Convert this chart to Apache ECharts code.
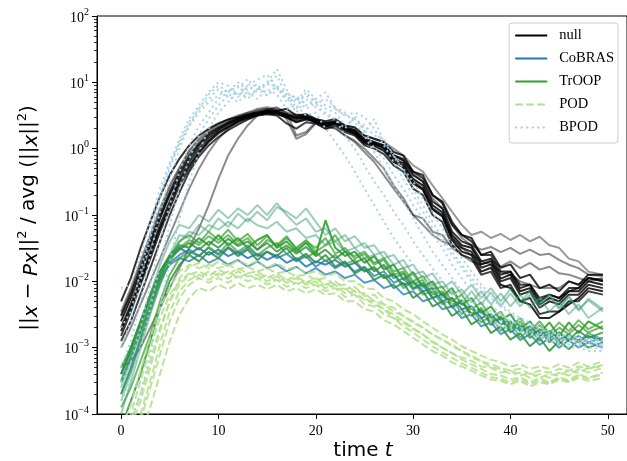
<!DOCTYPE html>
<html><head><meta charset="utf-8">
<script src="https://cdn.jsdelivr.net/npm/echarts@6/dist/echarts.min.js"></script>
<style>html,body{margin:0;padding:0;background:#fff}#c{width:627px;height:461px}</style>
</head><body><div id="c"></div>
<script>
// ---------- data ----------
const times = [0,1,2,3,4,5,6,7,8,9,10,11,12,13,14,15,16,17,18,19,20,21,22,23,24,25,26,27,28,29,
  30,31,32,33,34,35,36,37,38,39,40,41,42,43,44,45,46,47,48,49.5];
const legendNames = ['null','CoBRAS','TrOOP','POD','BPOD'];
const xTickValues = [0,10,20,30,40,50];

const nullRuns = [
 [2.5e-3,5.6e-3,0.014,0.035,0.089,0.2,0.4,0.71,1.12,1.58,
  2.0,2.4,2.8,3.16,3.4,3.6,3.5,3.16,2.8,2.95,
  2.5,2.3,2.5,2.0,1.78,1.26,1.15,1.05,0.71,0.6,
  0.35,0.28,0.14,0.11,0.05,0.035,0.032,0.018,0.02,0.011,
  0.0126,0.0071,0.0079,0.0045,0.0056,0.005,0.0071,0.0071,0.01,0.0089],
 [5e-3,0.0112,0.0316,0.079,0.19,0.4,0.71,1.12,1.58,2.0,
  2.4,2.75,3.0,3.3,3.5,3.8,3.7,4.0,3.16,3.3,
  2.8,2.6,2.8,2.24,2.1,1.58,1.41,1.26,0.89,0.79,
  0.45,0.4,0.2,0.16,0.079,0.05,0.045,0.025,0.028,0.016,
  0.018,0.0112,0.0126,0.0079,0.0089,0.0071,0.01,0.0089,0.0126,0.0126],
 [1.26e-3,2.5e-3,6.3e-3,0.0158,0.04,0.1,0.22,0.45,0.76,1.12,
  1.5,1.9,2.3,2.75,3.16,3.3,3.16,2.4,2.0,2.5,
  2.4,2.0,2.24,1.78,1.58,1.12,1.0,0.83,0.56,0.45,
  0.25,0.2,0.1,0.079,0.035,0.025,0.022,0.0126,0.014,0.0079,
  0.0089,0.005,0.0056,0.0032,0.0035,0.0035,0.005,0.005,0.0071,0.0063],
 [1.78e-3,4e-3,0.01,0.025,0.063,0.14,0.32,0.56,0.89,1.32,
  1.78,2.14,2.6,2.95,3.3,3.5,3.4,2.95,2.5,2.75,
  2.6,2.14,2.4,1.9,1.66,1.2,1.1,0.93,0.63,0.52,
  0.3,0.24,0.12,0.095,0.042,0.028,0.025,0.014,0.016,0.0089,
  0.0079,0.005,0.0045,0.0028,0.0028,0.0035,0.0045,0.0056,0.0079,0.0071],
 [2e-3,4.5e-3,0.0112,0.028,0.071,0.16,0.35,0.63,1.0,1.45,
  1.9,2.3,2.7,3.0,3.3,3.5,3.6,3.3,3.0,3.1,
  2.7,2.4,2.6,2.1,1.9,1.4,1.26,1.12,0.79,0.66,
  0.4,0.32,0.16,0.126,0.056,0.04,0.035,0.02,0.022,0.0126,
  0.014,0.0079,0.0089,0.005,0.0063,0.0056,0.0079,0.0079,0.0112,0.01],
 [3e-3,6.5e-3,0.016,0.04,0.1,0.22,0.45,0.79,1.2,1.7,
  2.1,2.5,2.9,3.2,3.5,3.7,3.6,3.2,2.9,3.0,
  2.6,2.4,2.5,2.0,1.85,1.32,1.2,1.0,0.66,0.56,
  0.32,0.25,0.126,0.1,0.045,0.032,0.028,0.016,0.018,0.01,
  0.0112,0.0063,0.0071,0.004,0.005,0.0045,0.0063,0.0063,0.0089,0.0079],
 [1.5e-3,3.5e-3,8.9e-3,0.022,0.056,0.126,0.28,0.5,0.85,1.26,
  1.7,2.1,2.5,2.85,3.2,3.4,3.3,3.0,2.6,2.85,
  2.5,2.2,2.4,1.95,1.7,1.3,1.2,1.1,0.8,0.7,
  0.45,0.36,0.2,0.15,0.071,0.05,0.04,0.025,0.025,0.0141,
  0.0141,0.0089,0.0089,0.0056,0.0063,0.0056,0.0071,0.0079,0.0112,0.0105],
 [5e-4,6.3e-4,1e-3,2e-3,4e-3,7.9e-3,0.0158,0.032,0.063,0.14,
  0.35,0.79,1.41,2.24,3.16,3.8,4.2,3.5,1.58,1.78,
  2.5,2.24,2.0,1.58,1.26,0.89,0.63,0.4,0.25,0.16,
  0.1,0.071,0.05,0.04,0.035,0.032,0.025,0.02,0.018,0.014,
  0.0126,0.01,0.0089,0.0079,0.0079,0.0079,0.01,0.0089,0.0112,0.01],
 [3.16e-3,7.1e-3,0.0178,0.045,0.112,0.25,0.5,0.89,1.32,1.78,
  2.24,2.6,3.0,3.5,4.0,4.2,4.0,3.5,3.3,3.16,
  2.8,2.5,2.6,2.24,2.0,1.58,1.41,1.26,1.0,0.79,
  0.56,0.45,0.28,0.18,0.112,0.071,0.05,0.056,0.045,0.052,
  0.042,0.05,0.04,0.047,0.035,0.032,0.022,0.02,0.014,0.0126],
 [3.5e-3,7.9e-3,0.02,0.05,0.126,0.28,0.52,0.95,1.41,1.9,
  2.34,2.75,3.16,3.47,3.7,4.0,3.8,3.3,3.16,3.0,
  2.7,2.5,2.5,2.1,1.9,1.41,1.26,1.12,0.79,0.66,
  0.42,0.32,0.18,0.126,0.071,0.045,0.035,0.03,0.033,0.0275,
  0.032,0.026,0.03,0.025,0.026,0.021,0.0178,0.0158,0.0126,0.012],
 [1e-3,2e-3,4.5e-3,0.01,0.022,0.05,0.112,0.25,0.5,0.89,
  1.41,2.0,2.6,3.16,3.8,4.0,3.8,2.8,1.41,1.66,
  2.4,2.0,2.1,1.58,1.32,1.0,0.71,0.5,0.28,0.18,
  0.1,0.089,0.056,0.05,0.032,0.025,0.02,0.0178,0.021,0.0166,
  0.02,0.0158,0.019,0.015,0.0166,0.0132,0.0126,0.0112,0.01,0.0112]
];

const cobrasRuns = [
 [4e-4,1e-3,2.5e-3,6.3e-3,0.0141,0.024,0.032,0.026,0.032,0.025,
  0.03,0.024,0.028,0.0224,0.026,0.021,0.025,0.019,0.0224,0.0166,
  0.02,0.0178,0.021,0.0166,0.019,0.0141,0.0158,0.0112,0.0126,0.0089,
  0.01,0.0071,0.0079,0.005,0.0056,0.0038,0.0042,0.0028,0.0032,0.00224,
  0.0025,0.00178,0.0021,0.0015,0.00178,0.00132,0.00158,0.00126,0.0015,0.00126],
 [2e-4,5e-4,1.41e-3,4e-3,0.01,0.019,0.025,0.03,0.024,0.032,
  0.025,0.033,0.026,0.032,0.024,0.028,0.0224,0.026,0.02,0.024,
  0.0166,0.021,0.0158,0.019,0.0141,0.0166,0.012,0.0141,0.0095,0.0112,
  0.0076,0.0089,0.0056,0.0066,0.0042,0.005,0.0032,0.0035,0.0024,0.0028,
  0.0019,0.00224,0.00158,0.0019,0.00141,0.00166,0.00126,0.0015,0.0012,0.00141],
 [3e-4,7e-4,1.78e-3,4.5e-3,0.0112,0.0178,0.0224,0.02,0.025,0.019,
  0.0224,0.0178,0.021,0.0166,0.02,0.0158,0.0178,0.0141,0.0166,0.0132,
  0.0158,0.0126,0.0141,0.0112,0.0126,0.0095,0.0105,0.0079,0.0089,0.0063,
  0.0071,0.005,0.0056,0.0038,0.0042,0.0028,0.0032,0.0021,0.0024,0.0016,
  0.0019,0.0013,0.0016,0.0011,0.0014,0.001,0.0013,0.001,0.0012,0.001]
];

const troopRuns = [
 [5e-4,1e-3,2.5e-3,6.3e-3,0.0141,0.025,0.035,0.032,0.045,0.035,
  0.05,0.035,0.045,0.032,0.042,0.05,0.032,0.04,0.028,0.038,
  0.025,0.083,0.032,0.024,0.028,0.019,0.024,0.015,0.0178,0.0105,
  0.0138,0.0083,0.01,0.006,0.0079,0.0044,0.0056,0.0033,0.0042,0.0026,
  0.0032,0.0019,0.0025,0.00166,0.0024,0.0015,0.0024,0.00166,0.0025,0.0019],
 [1.26e-4,2.5e-4,6.3e-4,1.58e-3,5e-3,0.0126,0.0224,0.028,0.024,0.033,
  0.026,0.038,0.028,0.035,0.025,0.032,0.038,0.026,0.032,0.0224,
  0.028,0.02,0.025,0.0178,0.021,0.0141,0.0166,0.0112,0.0132,0.0079,
  0.01,0.0063,0.0071,0.0045,0.0056,0.0032,0.004,0.0024,0.003,0.00178,
  0.0024,0.00141,0.0019,0.00126,0.00178,0.00112,0.00158,0.0012,0.00166,0.00132],
 [2.5e-4,6.3e-4,2e-3,6.3e-3,0.0178,0.04,0.071,0.063,0.1,0.079,
  0.12,0.089,0.126,0.1,0.141,0.1,0.151,0.1,0.071,0.089,
  0.056,0.063,0.04,0.05,0.032,0.038,0.025,0.028,0.0178,0.021,
  0.0126,0.0141,0.0089,0.01,0.0063,0.0076,0.0048,0.0071,0.0045,0.0066,
  0.0042,0.0063,0.004,0.0056,0.0035,0.005,0.0032,0.0045,0.0028,0.004],
 [1.58e-4,4e-4,1.26e-3,4e-3,0.0112,0.025,0.05,0.045,0.071,0.056,
  0.089,0.066,0.105,0.079,0.112,0.083,0.132,0.112,0.089,0.126,
  0.079,0.05,0.063,0.04,0.048,0.032,0.035,0.0224,0.025,0.0158,
  0.0178,0.0112,0.0132,0.0079,0.01,0.0063,0.0089,0.0056,0.0079,0.005,
  0.0076,0.0048,0.0071,0.0045,0.0063,0.004,0.006,0.0038,0.0052,0.0035],
 [6.3e-5,1.58e-4,4e-4,1.26e-3,4e-3,0.01,0.0178,0.025,0.02,0.028,
  0.0224,0.032,0.024,0.03,0.021,0.028,0.024,0.032,0.021,0.026,
  0.019,0.025,0.0166,0.02,0.0132,0.0158,0.0105,0.0126,0.0079,0.0095,
  0.0056,0.0071,0.0042,0.005,0.003,0.0038,0.00224,0.0028,0.00166,0.0021,
  0.00132,0.00166,0.00105,0.00141,0.00089,0.00126,0.00095,0.00132,0.001,0.0012],
 [3.16e-4,7.9e-4,1.78e-3,4.5e-3,0.0112,0.024,0.04,0.05,0.038,0.056,
  0.042,0.06,0.04,0.052,0.035,0.048,0.033,0.045,0.032,0.042,
  0.028,0.035,0.05,0.028,0.024,0.028,0.019,0.0224,0.0141,0.0158,
  0.01,0.012,0.0076,0.0083,0.005,0.0063,0.0038,0.0048,0.0028,0.0035,
  0.0021,0.0028,0.00178,0.0025,0.00166,0.0024,0.00178,0.0026,0.0019,0.0025],
 [2e-4,4.5e-4,1.26e-3,3.5e-3,0.009,0.02,0.032,0.042,0.035,0.048,
  0.038,0.05,0.036,0.045,0.03,0.042,0.035,0.048,0.03,0.04,
  0.032,0.045,0.026,0.032,0.022,0.026,0.0178,0.021,0.0126,0.0141,
  0.0089,0.0105,0.0063,0.0071,0.0045,0.0052,0.0032,0.004,0.0024,0.003,
  0.0019,0.0025,0.0016,0.0022,0.0015,0.002,0.0016,0.0022,0.0017,0.0021],
 [1e-4,3e-4,1e-3,3.2e-3,0.0089,0.02,0.04,0.056,0.05,0.071,
  0.06,0.079,0.063,0.089,0.07,0.063,0.079,0.056,0.063,0.045,
  0.05,0.035,0.04,0.028,0.032,0.0224,0.025,0.0158,0.0178,0.0112,
  0.0126,0.0079,0.0089,0.0056,0.0071,0.0045,0.0071,0.0045,0.0068,0.0042,
  0.0066,0.0042,0.0063,0.004,0.0063,0.0038,0.0058,0.0036,0.0055,0.0038],
 [4e-4,8.9e-4,2.2e-3,5.6e-3,0.0126,0.0224,0.03,0.038,0.03,0.04,
  0.032,0.044,0.034,0.04,0.03,0.038,0.028,0.035,0.026,0.033,
  0.024,0.03,0.022,0.028,0.019,0.0224,0.0141,0.0178,0.0112,0.0132,
  0.0079,0.0095,0.0056,0.0066,0.004,0.005,0.003,0.0038,0.0022,0.0028,
  0.0017,0.0022,0.0014,0.0019,0.0012,0.0017,0.0013,0.0018,0.0014,0.0017]
];

const podRuns = [
 [5e-5,7.9e-5,2e-4,6.3e-4,2e-3,5e-3,8.9e-3,0.0126,0.0141,0.012,
  0.0151,0.0126,0.0158,0.0132,0.0141,0.0112,0.0132,0.0105,0.012,0.0095,
  0.0112,0.0089,0.01,0.0076,0.0083,0.006,0.0063,0.0045,0.004,0.003,
  0.0025,0.002,0.00158,0.00132,0.00105,0.00089,0.00071,0.00063,0.0005,0.00048,
  0.0004,0.00042,0.00035,0.0004,0.00035,0.00042,0.00038,0.00048,0.00042,0.0005],
 [3.2e-5,6.3e-5,1.58e-4,5e-4,1.78e-3,5e-3,0.0112,0.0166,0.019,0.0158,
  0.02,0.0166,0.021,0.0178,0.02,0.0158,0.019,0.0151,0.0166,0.0132,
  0.0141,0.012,0.0132,0.01,0.01,0.0079,0.0076,0.0056,0.005,0.0038,
  0.0032,0.0025,0.002,0.00158,0.00132,0.00105,0.00089,0.00076,0.00066,0.0006,
  0.00052,0.00056,0.00048,0.00052,0.00048,0.00056,0.0005,0.0006,0.00052,0.00063],
 [1.6e-5,2.5e-5,5e-5,1.26e-4,4e-4,1.26e-3,3.16e-3,5.6e-3,7.9e-3,7.1e-3,
  8.9e-3,7.6e-3,9.5e-3,7.9e-3,8.9e-3,7.6e-3,8.9e-3,7.1e-3,7.9e-3,6.6e-3,
  7.6e-3,6.3e-3,6.6e-3,5e-3,5e-3,3.8e-3,3.5e-3,2.6e-3,2.24e-3,1.78e-3,
  1.41e-3,1.12e-3,8.9e-4,7.6e-4,6e-4,5.2e-4,4.5e-4,3.8e-4,3.3e-4,3.16e-4,
  2.8e-4,3.16e-4,2.6e-4,3e-4,2.8e-4,3.3e-4,3e-4,3.5e-4,3.16e-4,3.5e-4],
 [4e-5,1e-4,3.16e-4,1e-3,2.8e-3,6.3e-3,0.01,0.0132,0.0112,0.0141,
  0.012,0.0141,0.0112,0.0132,0.0105,0.0126,0.01,0.0112,0.0089,0.0105,
  0.0083,0.0095,0.0076,0.0079,0.006,0.0056,0.0045,0.0038,0.0028,0.0024,
  0.0019,0.00158,0.0012,0.001,0.00083,0.00071,0.00063,0.00052,0.0005,0.00042,
  0.00045,0.00038,0.00042,0.00035,0.0004,0.00038,0.00045,0.00042,0.0005,0.00052],
 [2.5e-5,4e-5,1e-4,3.16e-4,1.12e-3,3.5e-3,7.1e-3,0.0105,0.0126,0.0105,
  0.0132,0.011,0.0141,0.0118,0.0126,0.01,0.012,0.0095,0.0112,0.0089,
  0.01,0.0079,0.0089,0.0066,0.0071,0.0052,0.005,0.0038,0.0032,0.0025,
  0.002,0.00158,0.00126,0.001,0.00083,0.00066,0.00056,0.00048,0.0004,0.00038,
  0.00033,0.00036,0.0003,0.00035,0.0003,0.00036,0.00032,0.0004,0.00035,0.00042],
 [6e-5,1.4e-4,4.5e-4,1.4e-3,4e-3,8e-3,0.0141,0.0178,0.0158,0.0178,
  0.0158,0.0178,0.015,0.0166,0.0141,0.0158,0.0132,0.0141,0.012,0.0126,
  0.0105,0.0112,0.0089,0.0089,0.0071,0.0066,0.005,0.0045,0.0035,0.003,
  0.0024,0.002,0.00158,0.00132,0.0011,0.00089,0.00076,0.00063,0.00056,0.0005,
  0.00045,0.00048,0.0004,0.00045,0.00042,0.00048,0.00045,0.00052,0.00048,0.00055],
 [2e-5,3.5e-5,8e-5,2.5e-4,8e-4,2.5e-3,5.6e-3,8.9e-3,0.0112,0.0095,
  0.0112,0.0095,0.012,0.01,0.0112,0.0089,0.0105,0.0083,0.0095,0.0079,
  0.0089,0.0071,0.0079,0.0058,0.0063,0.0045,0.0042,0.0032,0.0028,0.0021,
  0.0017,0.00132,0.00105,0.00085,0.0007,0.00058,0.0005,0.00042,0.00036,0.00034,
  0.0003,0.00034,0.00028,0.00032,0.00029,0.00034,0.00031,0.00038,0.00034,0.0004]
];

const bpodRuns = [
 [7.9e-3,8.9e-3,0.025,0.079,0.25,0.63,1.41,2.8,4.5,7.1,
  10,8.9,6.3,8.9,7.1,10,15.8,7.9,4,7.1,
  5,4,3.5,2.24,2.8,2.0,1.0,0.71,0.4,0.25,
  0.141,0.089,0.05,0.032,0.0178,0.0112,0.0071,0.005,0.0035,0.0032,
  0.0025,0.00224,0.002,0.00178,0.00158,0.0015,0.00141,0.00126,0.0012,0.00112],
 [5e-4,1.26e-3,5e-3,0.025,0.112,0.35,1.0,2.24,4,5.6,
  7.9,6,8.3,11.2,7.9,8.9,12.6,6.3,5,7.9,
  5.6,7.1,4,3.16,3.5,3.0,2.0,1.12,0.63,0.35,
  0.2,0.112,0.063,0.04,0.025,0.0158,0.01,0.0063,0.0045,0.0032,
  0.0025,0.002,0.00166,0.00141,0.00126,0.00112,0.001,0.001,0.00089,0.00089],
 [1.58e-4,3.16e-4,1e-3,4e-3,0.0178,0.071,0.25,0.71,1.58,2.8,
  4.5,6.3,5,7.1,5.6,7.9,6.6,4,4.5,3.16,
  3.5,2.0,1.26,0.79,0.45,0.25,0.141,0.079,0.045,0.028,
  0.0178,0.0112,0.0079,0.0056,0.0045,0.0035,0.0032,0.0026,0.0024,0.0021,
  0.0019,0.00178,0.00158,0.0015,0.00141,0.00141,0.00126,0.00132,0.0012,0.00126],
 [1e-3,2.5e-3,0.01,0.045,0.178,0.5,1.26,2.5,4,6.6,
  8.9,7.1,10,7.6,9.5,6.3,8.9,6,3.5,5.6,
  4.2,3.5,2.8,2.0,3.16,1.78,2.8,1.26,0.79,0.5,
  0.32,0.178,0.112,0.063,0.035,0.0224,0.0141,0.0089,0.0063,0.0045,
  0.0035,0.0028,0.0024,0.002,0.00178,0.00158,0.0015,0.00141,0.00132,0.00132],
 [5e-5,7.9e-5,2e-4,7.9e-4,4e-3,0.02,0.089,0.32,0.89,2.0,
  3.5,5,7.1,5.6,7.9,6.3,8.9,5,5.6,4,
  4.8,3.16,2.8,1.58,1.0,0.56,0.32,0.2,0.112,0.071,
  0.04,0.025,0.0158,0.01,0.0071,0.005,0.004,0.0032,0.0026,0.00224,
  0.002,0.00178,0.00158,0.00141,0.00132,0.0012,0.00112,0.00112,0.001,0.001],
 [2e-3,3.5e-3,0.0141,0.056,0.2,0.56,1.2,2.2,3.5,5,
  6.3,7.9,6,8.9,11,13,8,7,5.6,6.3,
  5,5.6,4.2,3.5,2.5,1.58,0.89,0.5,0.28,0.16,
  0.089,0.05,0.028,0.0178,0.0112,0.0071,0.005,0.004,0.0032,0.0026,
  0.0022,0.002,0.0018,0.0016,0.0015,0.0014,0.0013,0.0012,0.0011,0.0011],
 [3e-4,6e-4,2e-3,8.9e-3,0.04,0.141,0.45,1.12,2.2,3.5,
  5.6,7.1,8.9,6.3,7.9,10,8.3,5.6,6.3,4.5,
  5.6,4.5,4,3.16,2.8,2.24,1.58,1.41,0.79,0.45,
  0.25,0.141,0.079,0.045,0.028,0.0178,0.0112,0.0079,0.0056,0.0042,
  0.0032,0.0026,0.0022,0.0019,0.0017,0.0016,0.0015,0.0014,0.0013,0.0013]
];

// ---------- styles ----------
const nullOpacity  = [0.85,0.8,0.75,0.85,0.8,0.8,0.75,0.45,0.4,0.45,0.45];
const cobrasOpacity= [0.85,0.75,0.75];
const troopColors  = ['#33a02c','#33a02c','#3d9e74','#3d9e74','#2a8f3e','#33a02c','#33a02c','#3d9e74','#2a8f3e'];
const troopOpacity = [0.9,0.7,0.5,0.5,0.85,0.7,0.7,0.5,0.8];
const nullColor = '#000000', cobrasColor = '#1f78b4', podColor = '#b2df8a', bpodColor = '#a6cee3';
const podOpacity = 0.85, bpodOpacity = 0.9;

const SERIF = "'Liberation Serif','DejaVu Serif',serif";
const SANS = "'DejaVu Sans',sans-serif";

function mk(name, run, color, opacity, dash) {
  return {
    type: 'line', name: name,
    data: times.map((t, i) => [t, run[i]]),
    symbol: 'none', showSymbol: false, silent: true, animation: false,
    clip: true, emphasis: {disabled: true},
    lineStyle: {color: color, opacity: opacity, width: 2, type: dash},
    itemStyle: {color: color}
  };
}
const series = [];
nullRuns.forEach((r, i) => series.push(mk('null', r, nullColor, nullOpacity[i], 'solid')));
cobrasRuns.forEach((r, i) => series.push(mk('CoBRAS', r, cobrasColor, cobrasOpacity[i], 'solid')));
troopRuns.forEach((r, i) => series.push(mk('TrOOP', r, troopColors[i], troopOpacity[i], 'solid')));
podRuns.forEach((r) => series.push(mk('POD', r, podColor, podOpacity, [7.7, 3.3])));
bpodRuns.forEach((r) => series.push(mk('BPOD', r, bpodColor, bpodOpacity, [2.1, 3.4])));

const minorTicks = [];
for (let d = -4; d < 2; d++) for (let k = 2; k <= 9; k++) minorTicks.push(Math.log10(k) + d);

function supLabel(v) {
  const e = Math.round(Math.log10(v));
  return '{b|10}{s|' + (e < 0 ? '\u2212' + (-e) : e) + '}';
}

const chart = echarts.init(document.getElementById('c'), null, {renderer: 'canvas'});
chart.setOption({
  animation: false,
  backgroundColor: '#fff',
  grid: {left: 97, right: -2, top: 16, bottom: 47, show: true, borderColor: '#000', borderWidth: 1, backgroundColor: 'transparent'},
  xAxis: {
    type: 'value', min: -2.475, max: 51.975,
    axisLine: {show: true, onZero: false, lineStyle: {color: '#000', width: 1}},
    axisTick: {show: true, length: 5, customValues: xTickValues, lineStyle: {color: '#000', width: 1}},
    axisLabel: {customValues: xTickValues, color: '#000', fontFamily: SERIF, fontSize: 14, margin: 10},
    splitLine: {show: false}
  },
  yAxis: [{
    type: 'log', logBase: 10, min: 1e-4, max: 100, splitNumber: 6,
    axisLine: {show: true, onZero: false, lineStyle: {color: '#000', width: 1}},
    axisTick: {show: true, length: 5, lineStyle: {color: '#000', width: 1}},
    axisLabel: {
      color: '#000', margin: 8, formatter: supLabel,
      rich: {
        b: {fontFamily: SERIF, fontSize: 14, color: '#000', lineHeight: 18, verticalAlign: 'bottom'},
        s: {fontFamily: SERIF, fontSize: 10, color: '#000', lineHeight: 18, verticalAlign: 'top'}
      }
    },
    splitLine: {show: false}
  }, {
    type: 'value', min: -4, max: 2, position: 'left', offset: 0,
    axisLine: {show: false, onZero: false},
    axisTick: {show: true, length: 3, customValues: minorTicks, lineStyle: {color: '#000', width: 0.8}},
    axisLabel: {show: false},
    splitLine: {show: false}
  }],
  legend: {
    data: legendNames, orient: 'vertical', right: 9, top: 23,
    itemWidth: 32, itemHeight: 12, itemGap: 8, padding: [5, 4, 8, 5],
    backgroundColor: 'rgba(255,255,255,0.8)', borderColor: '#cccccc', borderWidth: 1, borderRadius: 3,
    selectedMode: false,
    textStyle: {fontFamily: SERIF, fontSize: 14.5, color: '#000', padding: [0, 0, 0, 7]},
    lineStyle: {opacity: 1, width: 2},
    itemStyle: {opacity: 0}
  },
  graphic: [{
    type: 'text', x: 29, y: 218, rotation: Math.PI / 2,
    style: {
      text: '||{i|x} \u2212 {i|Px}||{s|2} / avg (||{i|x}||{s|2})',
      fontFamily: SANS, fontSize: 20, fill: '#000',
      align: 'center', verticalAlign: 'middle', textAlign: 'center', textVerticalAlign: 'middle',
      rich: {
        i: {fontFamily: SANS, fontSize: 20, fontStyle: 'italic', lineHeight: 26, verticalAlign: 'bottom'},
        s: {fontFamily: SANS, fontSize: 13, lineHeight: 26, verticalAlign: 'top'}
      }
    }
  }, {
    type: 'text', x: 363, y: 451,
    style: {
      text: 'time {i|t}', fontFamily: SANS, fontSize: 20, fill: '#000',
      align: 'center', verticalAlign: 'middle', textAlign: 'center', textVerticalAlign: 'middle',
      rich: {i: {fontFamily: SANS, fontSize: 20, fontStyle: 'italic'}}
    }
  }],
  series: series
});
</script>
</body></html>
